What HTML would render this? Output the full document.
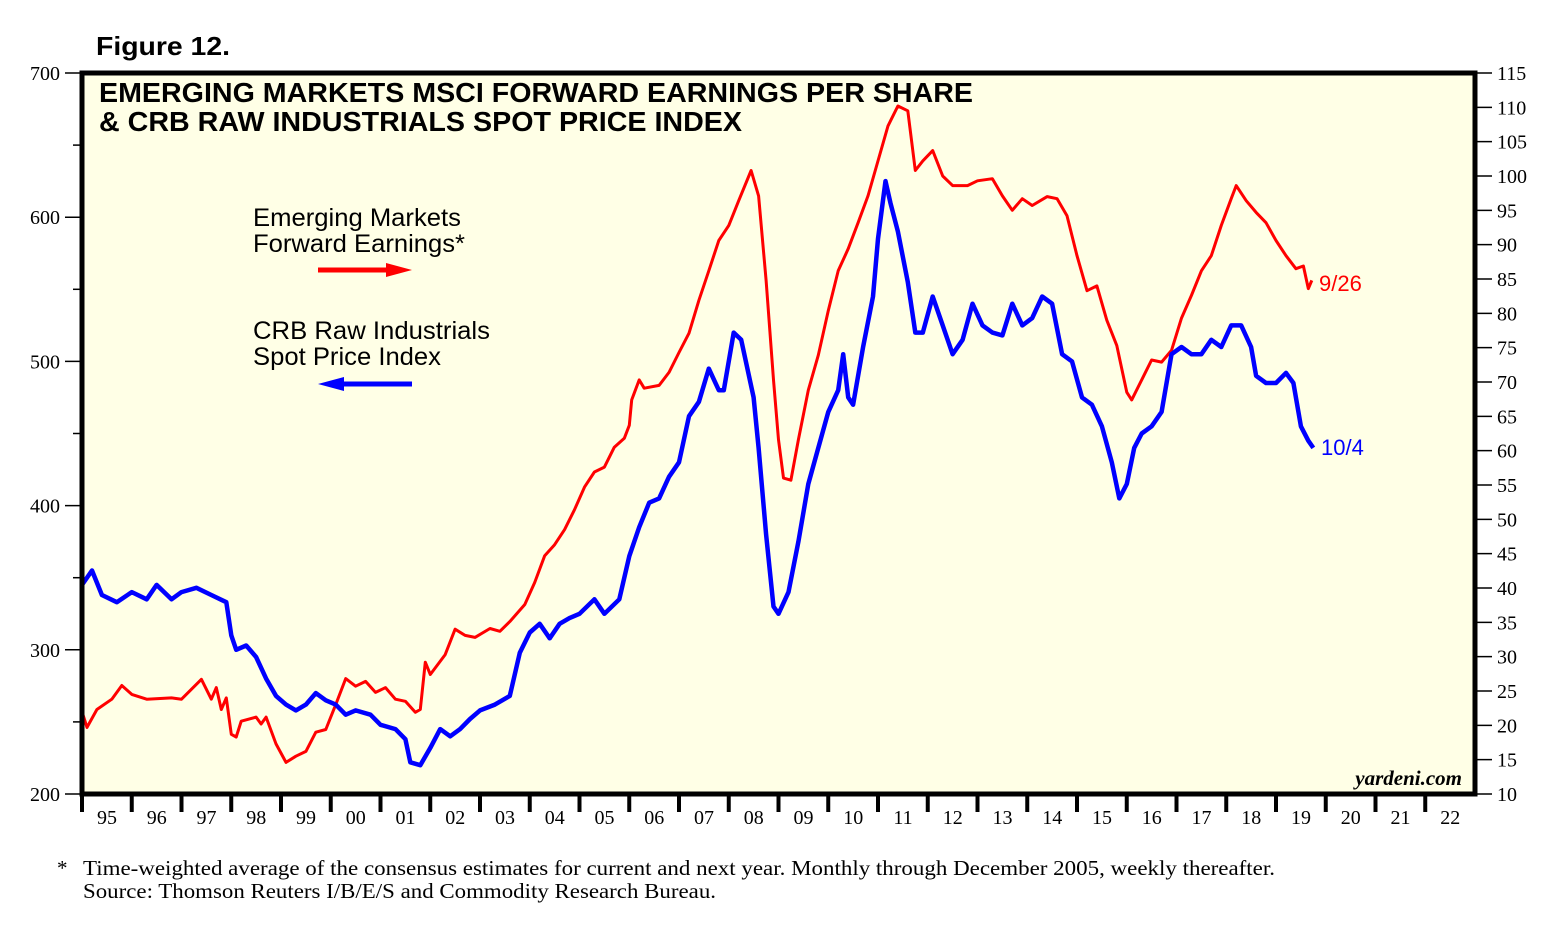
<!DOCTYPE html>
<html><head><meta charset="utf-8"><style>
body{margin:0;background:#fff;width:1560px;height:934px;overflow:hidden}
svg{display:block}
</style></head><body>
<svg id="chart" width="1560" height="934" xmlns="http://www.w3.org/2000/svg" font-family="Liberation Sans, sans-serif">
<text x="96" y="55" font-size="26" font-weight="bold" textLength="134" lengthAdjust="spacingAndGlyphs">Figure 12.</text>
<rect x="82" y="73" width="1393" height="721" fill="#ffffe6"/>
<g id="ticks"></g>
<g id="series"></g>
<rect x="82" y="73" width="1393" height="721" fill="none" stroke="#000" stroke-width="5"/>
<text x="99" y="102" font-size="28" font-weight="bold" textLength="874" lengthAdjust="spacingAndGlyphs">EMERGING MARKETS MSCI FORWARD EARNINGS PER SHARE</text>
<text x="99" y="131" font-size="28" font-weight="bold" textLength="643" lengthAdjust="spacingAndGlyphs">&amp; CRB RAW INDUSTRIALS SPOT PRICE INDEX</text>
<g>
<text x="253" y="226" font-size="25" textLength="208" lengthAdjust="spacingAndGlyphs">Emerging Markets</text>
<text x="253" y="252" font-size="25" textLength="212" lengthAdjust="spacingAndGlyphs">Forward Earnings*</text>
<line x1="318" y1="270" x2="390" y2="270" stroke="#f00" stroke-width="5"/>
<polygon points="386,263 412,270 386,277" fill="#f00"/>
</g>
<g>
<text x="253" y="339" font-size="25" textLength="237" lengthAdjust="spacingAndGlyphs">CRB Raw Industrials</text>
<text x="253" y="365" font-size="25" textLength="188" lengthAdjust="spacingAndGlyphs">Spot Price Index</text>
<line x1="340" y1="384" x2="412" y2="384" stroke="#00f" stroke-width="5"/>
<polygon points="344,377 318,384 344,391" fill="#00f"/>
</g>
<text x="1319" y="291" font-size="22" fill="#f00">9/26</text>
<text x="1321" y="455" font-size="22" fill="#00f">10/4</text>
<text x="1462" y="785" font-size="21" font-weight="bold" font-style="italic" font-family="Liberation Serif, serif" text-anchor="end">yardeni.com</text>
<text x="57" y="875" font-size="21" font-family="Liberation Serif, serif">*</text>
<text x="83" y="875" font-size="21" font-family="Liberation Serif, serif" textLength="1192" lengthAdjust="spacingAndGlyphs">Time-weighted average of the consensus estimates for current and next year. Monthly through December 2005, weekly thereafter.</text>
<text x="83" y="898" font-size="21" font-family="Liberation Serif, serif" textLength="633" lengthAdjust="spacingAndGlyphs">Source: Thomson Reuters I/B/E/S and Commodity Research Bureau.</text>
</svg>
<script>
const leftTicks=[200,300,400,500,600,700];
const rightTicks=[10,15,20,25,30,35,40,45,50,55,60,65,70,75,80,85,90,95,100,105,110,115];
const yearLabels=["95","96","97","98","99","00","01","02","03","04","05","06","07","08","09","10","11","12","13","14","15","16","17","18","19","20","21","22"];
const crbDates=[1995.0,1995.2,1995.4,1995.7,1996.0,1996.3,1996.5,1996.8,1997.0,1997.3,1997.6,1997.9,1998.0,1998.1,1998.3,1998.5,1998.7,1998.9,1999.1,1999.3,1999.5,1999.7,1999.9,2000.1,2000.3,2000.5,2000.8,2001.0,2001.3,2001.5,2001.6,2001.8,2002.0,2002.2,2002.4,2002.6,2002.8,2003.0,2003.3,2003.6,2003.8,2004.0,2004.2,2004.4,2004.6,2004.8,2005.0,2005.3,2005.5,2005.8,2006.0,2006.2,2006.4,2006.6,2006.8,2007.0,2007.2,2007.4,2007.6,2007.8,2007.9,2008.1,2008.25,2008.5,2008.6,2008.75,2008.9,2009.0,2009.2,2009.4,2009.6,2009.8,2010.0,2010.2,2010.3,2010.4,2010.5,2010.7,2010.9,2011.0,2011.15,2011.25,2011.4,2011.6,2011.75,2011.9,2012.1,2012.3,2012.5,2012.7,2012.9,2013.1,2013.3,2013.5,2013.7,2013.9,2014.1,2014.3,2014.5,2014.7,2014.9,2015.1,2015.3,2015.5,2015.7,2015.85,2016.0,2016.15,2016.3,2016.5,2016.7,2016.9,2017.1,2017.3,2017.5,2017.7,2017.9,2018.1,2018.3,2018.5,2018.6,2018.8,2019.0,2019.2,2019.35,2019.5,2019.65,2019.75];
const crbValues=[345,355,338,333,340,335,345,335,340,343,338,333,310,300,303,295,280,268,262,258,262,270,265,262,255,258,255,248,245,238,222,220,232,245,240,245,252,258,262,268,298,312,318,308,318,322,325,335,325,335,365,385,402,405,420,430,462,472,495,480,480,520,515,475,440,380,330,325,340,375,415,440,465,480,505,475,470,510,545,585,625,610,590,555,520,520,545,525,505,515,540,525,520,518,540,525,530,545,540,505,500,475,470,455,430,405,415,440,450,455,465,505,510,505,505,515,510,525,525,510,490,485,485,492,485,455,445,440];
const emDates=[1995.0,1995.1,1995.3,1995.6,1995.8,1996.0,1996.3,1996.8,1997.0,1997.4,1997.6,1997.7,1997.8,1997.9,1998.0,1998.1,1998.2,1998.5,1998.6,1998.7,1998.9,1999.1,1999.3,1999.5,1999.7,1999.9,2000.1,2000.3,2000.5,2000.7,2000.9,2001.1,2001.3,2001.5,2001.7,2001.8,2001.9,2002.0,2002.3,2002.5,2002.7,2002.9,2003.2,2003.4,2003.6,2003.9,2004.1,2004.3,2004.5,2004.7,2004.9,2005.1,2005.3,2005.5,2005.7,2005.9,2006.0,2006.05,2006.2,2006.3,2006.6,2006.8,2007.0,2007.2,2007.4,2007.6,2007.8,2008.0,2008.2,2008.45,2008.6,2008.75,2008.9,2009.0,2009.1,2009.25,2009.4,2009.6,2009.8,2010.0,2010.2,2010.4,2010.6,2010.8,2011.0,2011.2,2011.4,2011.6,2011.75,2011.9,2012.1,2012.3,2012.5,2012.8,2013.0,2013.3,2013.5,2013.7,2013.9,2014.1,2014.4,2014.6,2014.8,2015.0,2015.2,2015.4,2015.6,2015.8,2016.0,2016.1,2016.3,2016.5,2016.7,2016.9,2017.1,2017.3,2017.5,2017.7,2017.9,2018.1,2018.2,2018.4,2018.6,2018.8,2019.0,2019.2,2019.4,2019.55,2019.65,2019.72];
const emValues=[22,19.7,22.3,23.8,25.8,24.5,23.8,24,23.8,26.7,23.8,25.5,22.3,24,18.7,18.3,20.6,21.2,20.2,21.2,17.3,14.6,15.5,16.2,19,19.4,23,26.8,25.7,26.4,24.8,25.5,23.8,23.5,21.9,22.3,29.2,27.4,30.3,34,33.1,32.8,34.1,33.7,35.1,37.6,40.8,44.7,46.3,48.5,51.4,54.7,56.9,57.6,60.5,61.8,63.7,67.4,70.3,69.1,69.5,71.4,74.3,77.1,81.9,86.2,90.6,92.8,96.4,100.8,97.1,84.8,70.3,61.6,56,55.7,61.6,68.8,73.9,80.4,86.2,89.4,93.2,97.1,102.2,107.3,110.2,109.5,100.8,102.2,103.7,100,98.6,98.6,99.3,99.6,97.1,95,96.7,95.7,97,96.7,94.2,88.4,83.3,84,79,75.3,68.5,67.4,70.3,73.2,72.9,74.6,79.3,82.6,86.2,88.4,92.8,96.7,98.6,96.4,94.7,93.2,90.6,88.4,86.5,86.9,83.6,84.8];

const NS='http://www.w3.org/2000/svg';
const X0=82,X1=1475,Y0=794,Y1=73;
function xScale(d){return X0+(d-1995)*(X1-X0)/28;}
function yLeft(v){return Y0-(v-200)*(Y0-Y1)/500;}
function yRight(v){return Y0-(v-10)*(Y0-Y1)/105;}
const tg=document.getElementById('ticks');
function mk(tag,attrs,parent){const e=document.createElementNS(NS,tag);for(const k in attrs)e.setAttribute(k,attrs[k]);parent.appendChild(e);return e;}
leftTicks.forEach(v=>{
  const y=yLeft(v);
  const t=mk('line',{x1:65,x2:82,y1:y,y2:y,stroke:'#000','stroke-width':1.5},tg);
  
  
  const lb=mk('text',{x:60,y:y+7,'font-size':20,'text-anchor':'end','font-family':'Liberation Serif, serif'},tg);
  lb.textContent=v;
  
  
  if(v<700){const ym=yLeft(v+50);
    const m=mk('line',{x1:73,x2:82,y1:ym,y2:ym,stroke:'#000','stroke-width':1.5},tg);
    
    }
});
rightTicks.forEach(v=>{
  const y=yRight(v);
  const t=mk('line',{x1:1475,x2:1492,y1:y,y2:y,stroke:'#000','stroke-width':1.5},tg);
  
  
  const lb=mk('text',{x:1497,y:y+7,'font-size':20,'font-family':'Liberation Serif, serif'},tg);
  lb.textContent=v;
  
  
});
yearLabels.forEach((l,i)=>{
  const x=xScale(1995+i);
  if(i>0){const t=mk('line',{x1:x,x2:x,y1:794,y2:812,stroke:'#000','stroke-width':4},tg);
    
    }
  const lb=mk('text',{x:x+25,y:824,'font-size':20,'text-anchor':'middle','font-family':'Liberation Serif, serif'},tg);
  lb.textContent=l;
  
  
});
const t0=mk('line',{x1:X0,x2:X0,y1:794,y2:812,stroke:'#000','stroke-width':4},tg);


const sg=document.getElementById('series');
function line(dates,vals,yf,color,w,name){
  const d=dates.map((t,i)=>(i?'L':'M')+xScale(t).toFixed(1)+','+yf(vals[i]).toFixed(1)).join(' ');
  const p=mk('path',{d:d,fill:'none',stroke:color,'stroke-width':w,'stroke-linejoin':'round'},sg);
  
  
}
line(emDates,emValues,yRight,'#f00',3,'em-forward-earnings-line');
line(crbDates,crbValues,yLeft,'#00f',4.5,'crb-raw-industrials-line');
</script>
</body></html>
